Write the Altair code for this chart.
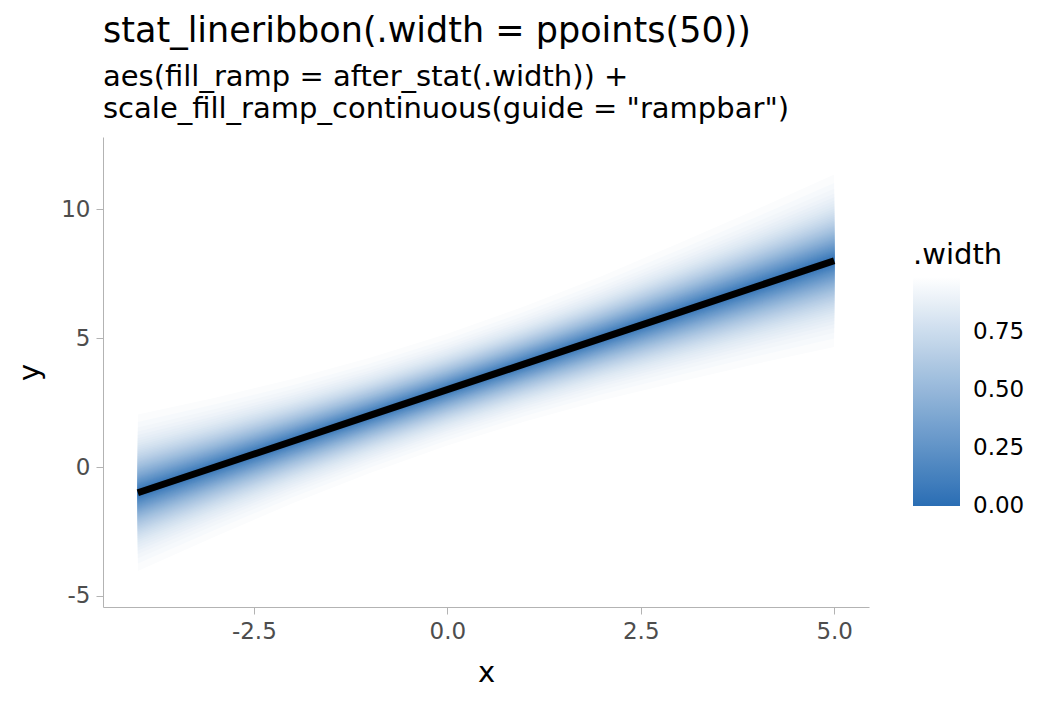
import altair as alt
import pandas as pd
from statistics import NormalDist

# x positions of the ribbon, median line values and the spread (sd) read at each x
x_vals = [-4, -3, -2, -1, 0, 1, 2, 3, 4, 5]
median_vals = [-1, 0, 1, 2, 3, 4, 5, 6, 7, 8]
spread_vals = [1.40, 1.24, 1.11, 1.03, 1.00, 1.03, 1.11, 1.24, 1.38, 1.54]

# ppoints(50)
widths = [0.01, 0.03, 0.05, 0.07, 0.09, 0.11, 0.13, 0.15, 0.17, 0.19,
          0.21, 0.23, 0.25, 0.27, 0.29, 0.31, 0.33, 0.35, 0.37, 0.39,
          0.41, 0.43, 0.45, 0.47, 0.49, 0.51, 0.53, 0.55, 0.57, 0.59,
          0.61, 0.63, 0.65, 0.67, 0.69, 0.71, 0.73, 0.75, 0.77, 0.79,
          0.81, 0.83, 0.85, 0.87, 0.89, 0.91, 0.93, 0.95, 0.97, 0.99]

x_ticks = [-2.5, 0.0, 2.5, 5.0]
y_ticks = [-5, 0, 5, 10]
legend_ticks = [0.0, 0.25, 0.5, 0.75]

BLUE = "#2A6EB4"
FONT = "DejaVu Sans"

nd = NormalDist()
rows = []
for w in sorted(widths, reverse=True):
    z = nd.inv_cdf(0.5 + w / 2)
    for xv, m, s in zip(x_vals, median_vals, spread_vals):
        rows.append({"x": xv, "lo": m - z * s, "hi": m + z * s, "width": w})
ribbons = pd.DataFrame(rows)
line_df = pd.DataFrame({"x": x_vals, "y": median_vals})

xscale = alt.Scale(domain=[-4.45, 5.45], nice=False, zero=False)
yscale = alt.Scale(domain=[-5.43, 12.8], nice=False, zero=False)

HYPHEN = "replace(datum.label, '\u2212', '-')"
xaxis = alt.Axis(values=x_ticks, format=".1f", title="x", labelExpr=HYPHEN)
yaxis = alt.Axis(values=y_ticks, format="d", title="y", labelExpr=HYPHEN)

ribbon = alt.Chart(ribbons).mark_area(interpolate="linear", strokeWidth=0, opacity=1).encode(
    x=alt.X("x:Q", scale=xscale, axis=xaxis),
    y=alt.Y("lo:Q", scale=yscale, axis=yaxis),
    y2="hi:Q",
    color=alt.Color(
        "width:Q",
        scale=alt.Scale(domain=[-0.0005, 0.99], range=[BLUE, "#FFFFFF"], interpolate="rgb"),
        legend=alt.Legend(
            title=".width",
            orient="none",
            legendX=810,
            legendY=104,
            direction="vertical",
            gradientLength=229,
            gradientThickness=47,
            gradientStrokeWidth=0,
            values=legend_ticks,
            format=".2f",
            labelOffset=13,
            labelBaseline="middle",
            labelOverlap=False,
            titleFontSize=29,
            titleFontWeight="normal",
            titleColor="black",
            titleFont=FONT,
            titlePadding=7,
            labelFontSize=23,
            labelFont=FONT,
            labelColor="black",
        ),
    ),
)

line = alt.Chart(line_df).mark_line(color="black", strokeWidth=7, strokeCap="butt").encode(
    x=alt.X("x:Q", scale=xscale, axis=xaxis),
    y=alt.Y("y:Q", scale=yscale, axis=yaxis),
)

chart = alt.layer(ribbon, line).properties(
    width=766,
    height=470,
    title=alt.TitleParams(
        text="stat_lineribbon(.width = ppoints(50))",
        subtitle=["aes(fill_ramp = after_stat(.width)) +",
                  "scale_fill_ramp_continuous(guide = \"rampbar\")"],
        anchor="start",
        frame="group",
        font=FONT,
        fontSize=35,
        fontWeight="normal",
        color="black",
        subtitleFont=FONT,
        subtitleFontSize=29,
        subtitleColor="black",
        subtitlePadding=14,
        subtitleLineHeight=32,
        offset=13,
    ),
    autosize=alt.AutoSizeParams(type="none"),
    padding={"left": 95, "top": 129, "right": 170, "bottom": 84},
).configure_view(
    stroke=None
).configure_axis(
    domainColor="#B3B3B3",
    tickColor="#B3B3B3",
    tickSize=7,
    labelPadding=6,
    labelFont=FONT,
    labelFontSize=23,
    labelColor="#4D4D4D",
    titleFont=FONT,
    titleFontSize=29,
    titleFontWeight="normal",
    titleColor="black",
    grid=False,
).configure_axisX(
    titlePadding=15,
).configure_axisY(
    titlePadding=16,
)

chart.save("out.html", embed_options={"renderer": "svg", "actions": False})
